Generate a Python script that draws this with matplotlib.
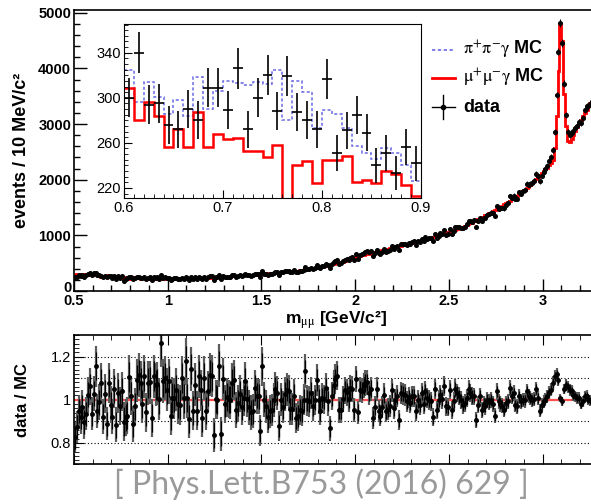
import numpy as np
import matplotlib
matplotlib.use("Agg")
import matplotlib.pyplot as plt
from matplotlib.ticker import MultipleLocator
from matplotlib.transforms import ScaledTranslation

plt.rcParams['font.family'] = ['Liberation Sans', 'DejaVu Sans']
plt.rcParams['mathtext.fontset'] = 'stix'

# mu+mu-gamma MC, events per 10 MeV bin from 0.50 GeV (one row = 0.1 GeV)
mumu_mc = [
    306, 298, 310, 295, 302, 290, 305, 296, 300, 303,
    309, 280, 296, 284, 256, 272, 256, 287, 256, 268,
    263, 264, 253, 253, 247, 258, 200, 240, 244, 224,
    245, 245, 248, 225, 227, 224, 235, 232, 223, 213,
    230, 226, 235, 222, 228, 220, 225, 218, 223, 220,
    215, 222, 218, 224, 216, 220, 225, 219, 223, 221,
    226, 222, 228, 224, 230, 226, 232, 228, 234, 230,
    236, 240, 234, 242, 238, 245, 243, 248, 246, 252,
    255, 252, 260, 258, 265, 262, 270, 268, 275, 272,
    280, 284, 282, 290, 288, 295, 298, 296, 305, 302,
    310, 312, 318, 315, 322, 326, 324, 332, 335, 333,
    340, 345, 343, 350, 354, 352, 360, 363, 365, 368,
    372, 378, 382, 386, 392, 398, 402, 410, 415, 422,
    430, 436, 442, 450, 458, 464, 472, 480, 488, 496,
    505, 514, 522, 530, 540, 550, 558, 568, 578, 590,
    604, 618, 624, 639, 643, 657, 660, 674, 679, 690,
    699, 703, 716, 719, 733, 736, 749, 752, 766, 770,
    783, 787, 799, 803, 817, 820, 834, 838, 846, 860,
    864, 878, 882, 896, 899, 914, 918, 933, 936, 951,
    955, 971, 975, 991, 995, 1011, 1016, 1033, 1038, 1055,
    1061, 1079, 1085, 1104, 1111, 1130, 1138, 1158, 1166, 1187,
    1196, 1218, 1228, 1251, 1262, 1286, 1298, 1322, 1335, 1360,
    1373, 1398, 1411, 1436, 1450, 1476, 1490, 1516, 1530, 1558,
    1574, 1601, 1617, 1646, 1663, 1693, 1712, 1743, 1763, 1796,
    1818, 1853, 1877, 1914, 1940, 1979, 2007, 2048, 2078, 2121,
    2150, 2190, 2220, 2260, 2300, 2353, 2579, 3145, 3949, 4782,
    4496, 3546, 2958, 2705, 2680, 2740, 2810, 2880, 2950, 3010,
    3080, 3140, 3200, 3260, 3320, 3380,
]

# data / MC per bin, same binning
ratio = [
    0.826, 0.873, 0.946, 0.919, 0.966, 0.895, 0.935, 1.023, 1.062, 0.935,
    1.028, 1.155, 0.949, 0.988, 1.078, 0.922, 1.028, 0.888, 1.078, 0.977,
    0.922, 1.050, 0.884, 1.031, 0.969, 1.039, 0.899, 0.919, 0.926, 1.105,
    1.019, 0.887, 0.969, 1.090, 1.116, 1.078, 0.981, 1.109, 0.941, 1.078,
    1.081, 0.915, 1.109, 1.070, 1.074, 1.003, 1.264, 1.085, 1.101, 1.047,
    1.085, 0.926, 1.008, 1.008, 1.047, 0.981, 0.977, 1.101, 1.006, 1.178,
    1.008, 0.910, 1.143, 0.950, 1.070, 0.950, 1.109, 1.043, 0.915, 1.101,
    0.950, 1.039, 1.116, 1.109, 0.837, 1.003, 1.000, 1.158, 0.842, 1.096,
    0.981, 1.012, 1.003, 1.000, 1.078, 1.090, 0.953, 0.984, 1.028, 0.966,
    1.008, 1.085, 1.003, 0.966, 0.941, 0.946, 1.054, 1.019, 1.016, 0.857,
    1.155, 1.000, 0.969, 0.919, 0.946, 0.953, 0.997, 1.050, 1.031, 0.879,
    1.000, 0.966, 1.028, 1.047, 1.039, 0.957, 0.957, 1.019, 0.915, 0.926,
    0.953, 0.946, 1.000, 1.132, 0.997, 0.992, 1.031, 0.972, 1.000, 1.093,
    1.000, 0.950, 1.008, 1.003, 1.054, 0.992, 0.868, 1.019, 1.070, 1.096,
    1.112, 0.953, 0.953, 1.003, 1.043, 1.034, 1.003, 1.054, 1.050, 0.953,
    1.096, 0.941, 1.047, 1.042, 1.065, 1.078, 1.081, 1.031, 1.050, 0.915,
    0.966, 1.050, 0.946, 0.926, 0.966, 1.023, 0.946, 0.957, 0.972, 1.043,
    0.961, 1.000, 1.016, 0.907, 1.031, 1.028, 1.023, 0.992, 1.012, 0.984,
    1.016, 1.016, 0.946, 0.997, 0.977, 1.031, 0.981, 1.039, 1.008, 1.000,
    0.992, 0.919, 1.050, 0.953, 1.000, 1.023, 1.003, 1.065, 0.969, 0.966,
    1.047, 0.953, 0.992, 1.050, 1.031, 1.016, 0.997, 0.977, 0.984, 1.008,
    1.050, 1.031, 1.016, 1.016, 0.907, 0.977, 1.016, 0.953, 0.981, 0.969,
    1.000, 0.988, 1.000, 0.981, 0.926, 1.039, 0.992, 0.981, 0.972, 0.953,
    0.984, 0.992, 1.054, 1.016, 1.031, 0.977, 0.969, 1.016, 0.992, 1.000,
    0.997, 1.039, 1.016, 1.008, 1.000, 1.003, 1.050, 1.008, 0.950, 0.977,
    0.992, 1.000, 1.016, 1.034, 1.047, 1.078, 1.109, 1.121, 1.090, 1.008,
    0.992, 1.050, 1.070, 1.059, 1.047, 1.039, 1.023, 1.016, 1.008, 1.008,
    0.981, 0.992, 1.016, 1.019, 1.000, 0.997,
]

# zoom 0.6 - 0.9 GeV
inset_data = [300, 340, 294, 295, 276, 272, 290, 280, 309, 309,
              289, 326, 272, 300, 320, 288, 319, 287, 280, 272,
              317, 251, 271, 285, 269, 240, 251, 233, 256, 242]
inset_pipi = [325, 296, 314, 301, 286, 298, 284, 318, 290, 306,
              315, 313, 311, 314, 312, 325, 280, 315, 305, 273,
              289, 286, 273, 257, 251, 246, 255, 251, 240, 226]

main_xticks = [0.5, 1, 1.5, 2, 2.5, 3]
main_xlabels = ['0.5', '1', '1.5', '2', '2.5', '3']
main_yticks = [0, 1000, 2000, 3000, 4000, 5000]
ratio_yticks = [0.8, 1.0, 1.2]
ratio_ylabels = ['0.8', '1', '1.2']
ratio_grid = [0.8, 0.9, 1.1, 1.2]
inset_xticks = [0.6, 0.7, 0.8, 0.9]
inset_yticks = [220, 260, 300, 340]

mumu_mc = np.array(mumu_mc, dtype=float)
ratio = np.array(ratio)
edges = 0.5 + 0.01 * np.arange(len(mumu_mc) + 1)
centers = 0.5 * (edges[:-1] + edges[1:])
data = mumu_mc * ratio
r_err = ratio / np.sqrt(data)
r_err_tot = ratio * np.sqrt(1.0 / data + 1.0 / mumu_mc)

fig = plt.figure(figsize=(5.91, 5.04), dpi=100)

# ---- main panel
ax = fig.add_axes([0.1252, 0.4226, 0.8753, 0.5574])
ax.stairs(mumu_mc, edges, baseline=None, color='red', lw=2)
ax.errorbar(centers, data, yerr=np.sqrt(data), fmt='o', ms=2.6, color='black',
            elinewidth=0.8, capsize=0)
ax.set_xlim(0.5, 3.26)
ax.set_ylim(0, 5050)
ax.set_xticks(main_xticks, main_xlabels, fontweight='bold', fontsize=10.5)
ax.set_yticks(main_yticks, [str(v) for v in main_yticks], fontweight='bold', fontsize=10.5)
ax.xaxis.set_minor_locator(MultipleLocator(0.1))
ax.yaxis.set_minor_locator(MultipleLocator(200))
ax.tick_params(which='both', direction='in', top=False, right=False, width=1)
ax.tick_params(which='major', length=9, pad=2)
ax.tick_params(which='minor', length=4.5)
ax.spines['right'].set_visible(False)
for s in ['left', 'bottom', 'top']:
    ax.spines[s].set_linewidth(1.2)
# lift the "0" a little so it clears the "0.5" below it
zero_lab = ax.get_yticklabels()[0]
zero_lab.set_transform(zero_lab.get_transform() + ScaledTranslation(0, 3 / 72, fig.dpi_scale_trans))
ax.set_ylabel('events / 10 MeV/c²', fontsize=13, fontweight='bold')
ax.yaxis.set_label_coords(-0.085, 0.5)
ax.set_xlabel(r'm$_{\mathrm{\mu\mu}}$ [GeV/c²]', fontsize=12.5, fontweight='bold')
ax.xaxis.set_label_coords(0.507, -0.066)

# legend drawn by hand
ax.plot([0.692, 0.737], [0.858, 0.858], transform=ax.transAxes,
        color='#6a6ae6', ls=(0, (2, 1.5)), lw=1.2)
ax.plot([0.692, 0.737], [0.758, 0.758], transform=ax.transAxes, color='red', lw=2)
ax.plot([0.692, 0.737], [0.655, 0.655], transform=ax.transAxes, color='black', lw=1)
ax.plot([0.714, 0.714], [0.612, 0.698], transform=ax.transAxes, color='black', lw=1)
ax.plot([0.714], [0.655], 'o', ms=3, color='black', transform=ax.transAxes)
ax.text(0.752, 0.858, r'$\mathrm{\pi^{+}\pi^{-}\gamma}$ MC', transform=ax.transAxes,
        fontsize=13, fontweight='bold', va='center')
ax.text(0.752, 0.758, r'$\mathrm{\mu^{+}\mu^{-}\gamma}$ MC', transform=ax.transAxes,
        fontsize=13, fontweight='bold', va='center')
ax.text(0.752, 0.655, 'data', transform=ax.transAxes,
        fontsize=13, fontweight='bold', va='center')

# ---- inset
iax = fig.add_axes([0.2098, 0.6071, 0.5025, 0.3453])
iax.stairs(inset_pipi, edges[10:41], baseline=None, color='#6a6ae6',
           ls=(0, (2, 1.5)), lw=1.1)
iax.stairs(mumu_mc[10:40], edges[10:41], baseline=None, color='red', lw=1.8)
iax.errorbar(centers[10:40], inset_data, yerr=np.sqrt(inset_data), xerr=0.005,
             fmt='none', ecolor='black', elinewidth=1.2, capsize=0)
iax.set_xlim(0.6, 0.9)
iax.set_ylim(211, 365.5)
iax.set_xticks(inset_xticks, [str(v) for v in inset_xticks], fontsize=10.5)
iax.set_yticks(inset_yticks, [str(v) for v in inset_yticks], fontsize=10.5)
iax.xaxis.set_minor_locator(MultipleLocator(0.01))
iax.yaxis.set_minor_locator(MultipleLocator(5))
iax.tick_params(which='both', direction='in', top=False, right=False)
iax.tick_params(which='major', length=6, pad=2)
iax.tick_params(which='minor', length=3)

# ---- ratio panel
rax = fig.add_axes([0.1252, 0.0784, 0.8753, 0.2569])
for v in ratio_grid:
    rax.axhline(v, color='black', ls=(0, (1, 2)), lw=0.8)
rax.axhline(1.0, color='#ff5050', lw=1.6)
rax.vlines(centers, ratio - r_err_tot, ratio + r_err_tot, color='#5c5c5c', lw=1.6)
rax.errorbar(centers, ratio, yerr=r_err, fmt='o', ms=2.5, color='black',
             elinewidth=0.9, capsize=0)
rax.set_xlim(0.5, 3.26)
rax.set_ylim(0.7, 1.3)
rax.set_xticks(main_xticks, [])
rax.set_yticks(ratio_yticks, ratio_ylabels, fontsize=10.5)
rax.xaxis.set_minor_locator(MultipleLocator(0.1))
rax.yaxis.set_minor_locator(MultipleLocator(0.02))
rax.tick_params(which='both', direction='in', top=True, right=False, labelbottom=False)
rax.tick_params(which='major', length=7, pad=2)
rax.tick_params(which='minor', length=3.5)
rax.spines['right'].set_visible(False)
for s in ['left', 'bottom', 'top']:
    rax.spines[s].set_linewidth(1.2)
rax.set_ylabel('data / MC', fontsize=12, fontweight='bold')
rax.yaxis.set_label_coords(-0.085, 0.5)

fig.text(0.544, 0.040, '[ Phys.Lett.B753 (2016) 629 ]', ha='center', va='center',
         fontsize=23, color='#9a9a9a', family=['Lato', 'Open Sans', 'DejaVu Sans'])

fig.savefig('out.png', dpi=100)
